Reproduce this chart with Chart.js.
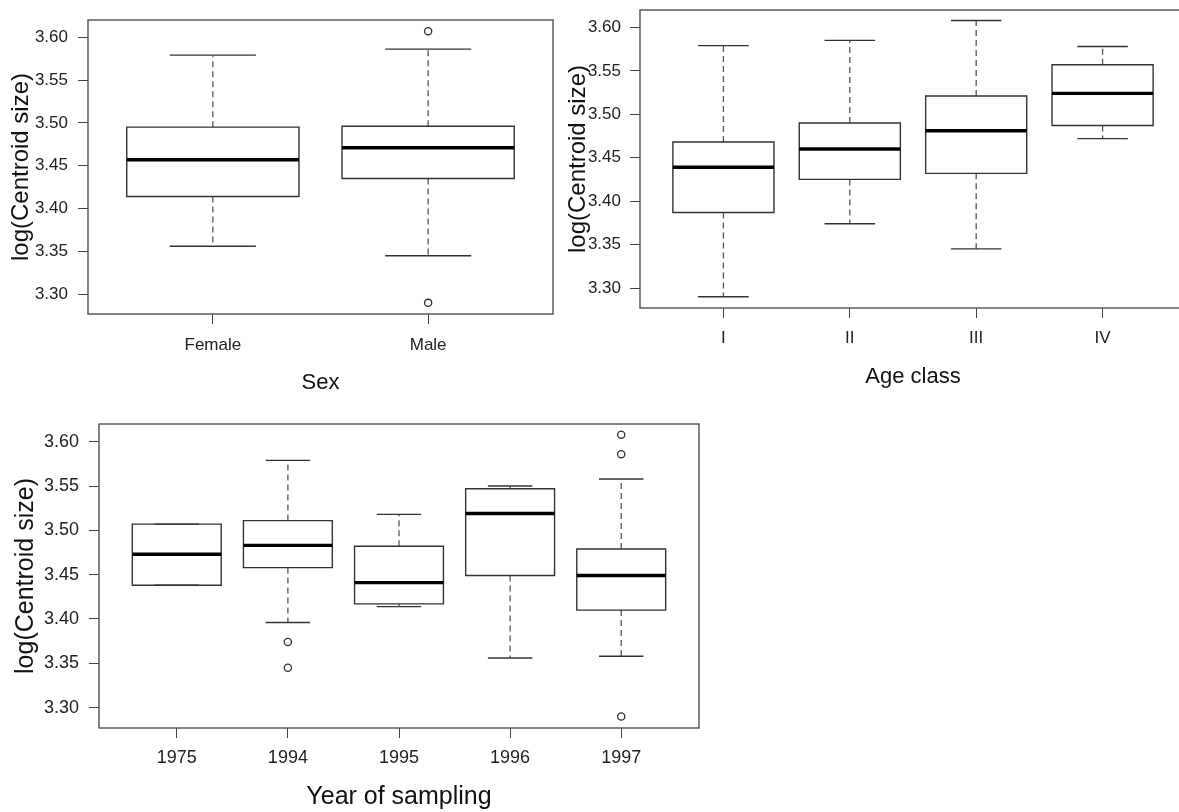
<!DOCTYPE html>
<html>
<head>
<meta charset="utf-8">
<script src="https://cdn.jsdelivr.net/npm/chart.js@4.4.1/dist/chart.umd.min.js"></script>
<style>
  html, body { margin: 0; padding: 0; background: #fff; overflow: hidden; width: 1179px; height: 812px; }
  canvas { position: absolute; }
</style>
</head>
<body>
<canvas id="sexChart" width="560" height="400" style="left:0;top:0"></canvas>
<canvas id="ageChart" width="635" height="400" style="left:560px;top:0"></canvas>
<canvas id="yearChart" width="720" height="412" style="left:0;top:400px"></canvas>
<script>
// y axis, shared by the three panels
const yTicks = [3.30, 3.35, 3.40, 3.45, 3.50, 3.55, 3.60];
const yLimits = [3.277, 3.620];

// Sex
const sexLabels = ["Female", "Male"];
const sexLower = [3.356, 3.345];
const sexQ1 = [3.414, 3.435];
const sexMedian = [3.457, 3.471];
const sexQ3 = [3.495, 3.496];
const sexUpper = [3.579, 3.586];
const sexOutliers = [[], [3.607, 3.290]];

// Age class
const ageLabels = ["I", "II", "III", "IV"];
const ageLower = [3.290, 3.374, 3.345, 3.472];
const ageQ1 = [3.387, 3.425, 3.432, 3.487];
const ageMedian = [3.439, 3.460, 3.481, 3.524];
const ageQ3 = [3.468, 3.490, 3.521, 3.557];
const ageUpper = [3.579, 3.585, 3.608, 3.578];
const ageOutliers = [[], [], [], []];

// Year of sampling
const yearLabels = ["1975", "1994", "1995", "1996", "1997"];
const yearLower = [3.438, 3.396, 3.414, 3.356, 3.358];
const yearQ1 = [3.438, 3.458, 3.417, 3.449, 3.410];
const yearMedian = [3.473, 3.483, 3.441, 3.519, 3.449];
const yearQ3 = [3.507, 3.511, 3.482, 3.547, 3.479];
const yearUpper = [3.507, 3.579, 3.518, 3.550, 3.558];
const yearOutliers = [[], [3.374, 3.345], [], [], [3.608, 3.586, 3.290]];

const FONT = "'Liberation Sans', Arial, Helvetica, sans-serif";

// cadre autour de la zone de tracé (comme box() dans R)
const framePlugin = {
  id: "frame",
  afterDatasetsDraw(chart) {
    const { ctx, chartArea: a } = chart;
    ctx.save();
    ctx.strokeStyle = "#505050";
    ctx.lineWidth = 1.4;
    ctx.strokeRect(a.left, a.top, a.right - a.left, a.bottom - a.top);
    ctx.restore();
  },
};

function seg(points, extra) {
  return Object.assign({
    data: points,
    showLine: true,
    fill: false,
    tension: 0,
    pointRadius: 0,
    pointHoverRadius: 0,
    borderColor: "#333",
    borderWidth: 1.4,
  }, extra);
}

function boxChart(id, labels, lower, q1, med, q3, upper, outliers, o) {
  const n = labels.length;
  const datasets = [];
  const outPts = [];
  for (let i = 0; i < n; i++) {
    const c = i + 1;
    // boîte
    datasets.push(seg([
      { x: c - 0.4, y: q1[i] }, { x: c + 0.4, y: q1[i] },
      { x: c + 0.4, y: q3[i] }, { x: c - 0.4, y: q3[i] },
      { x: c - 0.4, y: q1[i] },
    ], { order: 2, borderCapStyle: "square" }));
    // moustaches (pointillés)
    datasets.push(seg([{ x: c, y: q3[i] }, { x: c, y: upper[i] }], { order: 3, borderDash: [6, 4], borderColor: "#555", borderWidth: 1.3 }));
    datasets.push(seg([{ x: c, y: q1[i] }, { x: c, y: lower[i] }], { order: 3, borderDash: [6, 4], borderColor: "#555", borderWidth: 1.3 }));
    // extrémités
    datasets.push(seg([{ x: c - 0.2, y: upper[i] }, { x: c + 0.2, y: upper[i] }], { order: 2 }));
    datasets.push(seg([{ x: c - 0.2, y: lower[i] }, { x: c + 0.2, y: lower[i] }], { order: 2 }));
    // médiane
    datasets.push(seg([{ x: c - 0.4, y: med[i] }, { x: c + 0.4, y: med[i] }], { order: 0, borderColor: "#000", borderWidth: 3.4 }));
    outliers[i].forEach(v => outPts.push({ x: c, y: v }));
  }
  datasets.push({
    data: outPts,
    showLine: false,
    pointRadius: 3.6,
    pointHoverRadius: 3.6,
    pointBackgroundColor: "#fff",
    pointBorderColor: "#333",
    pointBorderWidth: 1.3,
    order: 1,
  });

  return new Chart(document.getElementById(id), {
    type: "scatter",
    data: { datasets },
    plugins: [framePlugin],
    options: {
      responsive: false,
      animation: false,
      events: [],
      layout: { padding: o.padding },
      plugins: { legend: { display: false }, tooltip: { enabled: false } },
      scales: {
        x: {
          type: "linear",
          min: 0.5 - 0.04 * n,
          max: n + 0.5 + 0.04 * n,
          afterBuildTicks: s => { s.ticks = labels.map((l, i) => ({ value: i + 1 })); },
          afterFit: s => { s.height = o.xHeight; s.paddingLeft = 0; s.paddingRight = 0; },
          grid: { drawOnChartArea: false, drawTicks: true, tickLength: 10, color: "#444" },
          border: { display: false },
          ticks: {
            autoSkip: false,
            maxRotation: 0,
            padding: o.xTickPad,
            color: "#222",
            font: { family: FONT, size: o.tickSize },
            callback: v => labels[Math.round(v) - 1],
          },
          title: {
            display: true,
            text: o.xTitle,
            color: "#111",
            font: { family: FONT, size: o.xTitleSize },
            padding: { top: 0, bottom: o.xTitlePad },
          },
        },
        y: {
          min: yLimits[0],
          max: yLimits[1],
          afterBuildTicks: s => { s.ticks = yTicks.map(v => ({ value: v })); },
          // pas de marge automatique pour les étiquettes extrêmes
          afterFit: s => { s.width = o.yWidth; s.paddingTop = 0; s.paddingBottom = 0; },
          grid: { drawOnChartArea: false, drawTicks: true, tickLength: 10, color: "#444" },
          border: { display: false },
          ticks: {
            padding: o.yTickPad,
            color: "#222",
            font: { family: FONT, size: o.tickSize },
            callback: v => v.toFixed(2),
          },
          title: {
            display: true,
            text: "log(Centroid size)",
            color: "#111",
            font: { family: FONT, size: o.yTitleSize },
            padding: { top: o.yTitlePad, bottom: 0 },
          },
        },
      },
    },
  });
}

boxChart("sexChart", sexLabels, sexLower, sexQ1, sexMedian, sexQ3, sexUpper, sexOutliers, {
  padding: { top: 20, right: 7, left: 0, bottom: 0 },
  yWidth: 88, xHeight: 86, tickSize: 17, xTickPad: 11, yTickPad: 10,
  xTitle: "Sex", xTitleSize: 22, xTitlePad: 4, yTitleSize: 24, yTitlePad: 7,
});

boxChart("ageChart", ageLabels, ageLower, ageQ1, ageMedian, ageQ3, ageUpper, ageOutliers, {
  padding: { top: 10, right: 9, left: 0, bottom: 0 },
  yWidth: 80, xHeight: 92, tickSize: 17, xTickPad: 10, yTickPad: 9,
  xTitle: "Age class", xTitleSize: 22, xTitlePad: 10, yTitleSize: 24, yTitlePad: 4,
});

boxChart("yearChart", yearLabels, yearLower, yearQ1, yearMedian, yearQ3, yearUpper, yearOutliers, {
  padding: { top: 24, right: 21, left: 0, bottom: 0 },
  yWidth: 99, xHeight: 84, tickSize: 18, xTickPad: 9, yTickPad: 10,
  xTitle: "Year of sampling", xTitleSize: 25, xTitlePad: 0, yTitleSize: 25, yTitlePad: 11,
});
</script>
</body>
</html>
